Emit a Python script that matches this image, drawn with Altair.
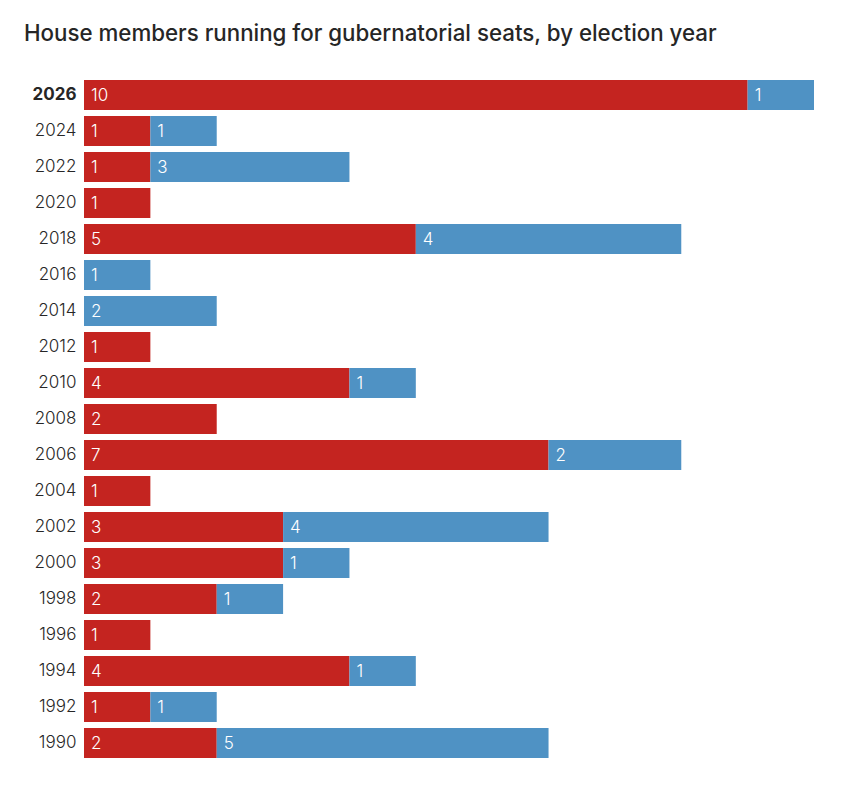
import altair as alt
import pandas as pd

years = ["2026", "2024", "2022", "2020", "2018", "2016", "2014", "2012", "2010",
         "2008", "2006", "2004", "2002", "2000", "1998", "1996", "1994", "1992", "1990"]
republicans = [10, 1, 1, 1, 5, 0, 0, 1, 4, 2, 7, 1, 3, 3, 2, 1, 4, 1, 2]
democrats = [1, 1, 3, 0, 4, 1, 2, 0, 1, 0, 2, 0, 4, 1, 1, 0, 1, 1, 5]

rows = []
for y, r, d in zip(years, republicans, democrats):
    rows.append({"year": y, "party": "Republican", "order": 0, "count": r})
    rows.append({"year": y, "party": "Democrat", "order": 1, "count": d})
df = pd.DataFrame(rows)

RED = "#c42420"
BLUE = "#4f92c4"

base = alt.Chart(df).transform_filter("datum.count > 0").transform_stack(
    stack="count", groupby=["year"], as_=["x0", "x1"],
    sort=[alt.SortField("order", order="ascending")]
)

yenc = alt.Y("year:N", sort=years, title=None,
             scale=alt.Scale(paddingInner=6 / 36, paddingOuter=3 / 36),
             axis=alt.Axis(domain=False, ticks=False, grid=False, labelPadding=8,
                           labelFontSize=17, labelFont="Inter", labelColor="#262626",
                           labelFontWeight={"condition": {"test": "datum.value == '2026'", "value": "bold"},
                                            "value": 300}))

xscale = alt.Scale(domain=[0, 11], nice=False, zero=True)

bars = base.mark_bar(cornerRadius=0).encode(
    x=alt.X("x0:Q", scale=xscale, axis=None),
    x2="x1:Q",
    y=yenc,
    color=alt.Color("party:N", scale=alt.Scale(domain=["Republican", "Democrat"], range=[RED, BLUE]), legend=None),
)

labels = base.mark_text(align="left", baseline="middle", dx=7, dy=1, fontSize=17,
                        font="Inter", fontWeight=300, color="#ffffff").encode(
    x=alt.X("x0:Q", scale=xscale, axis=None),
    y=alt.Y("year:N", sort=years),
    text="count:Q",
)

chart = (bars + labels).properties(
    width=730, height=684,
    title=alt.TitleParams("House members running for gubernatorial seats, by election year",
                          anchor="start", dx=-60, fontSize=22.3, font="Inter", fontWeight=500,
                          color="#262626", baseline="alphabetic", offset=14, frame="group"),
    autosize=alt.AutoSizeParams(type="none"),
    padding={"left": 76, "top": 69, "right": 28, "bottom": 10},
).configure(background="white").configure_view(strokeWidth=0, stroke="transparent")

chart.save("out.html", embed_options={"renderer": "svg", "actions": False})
